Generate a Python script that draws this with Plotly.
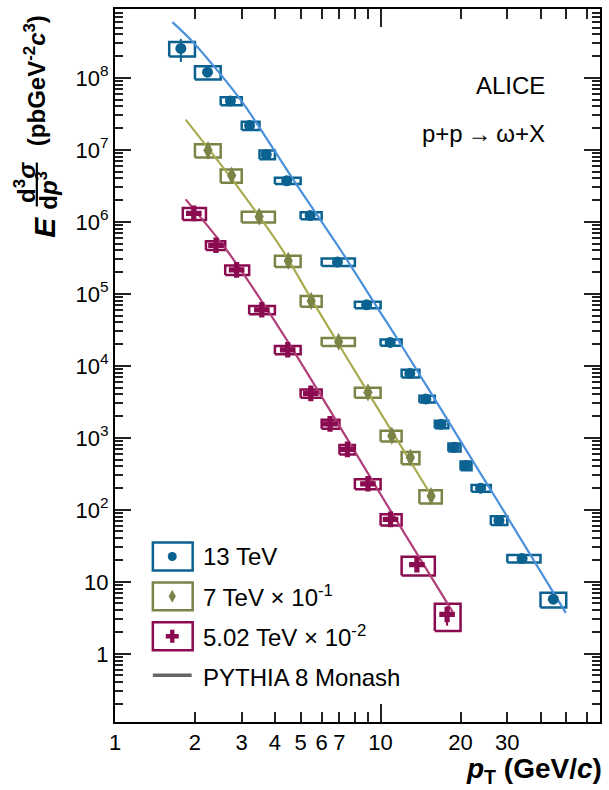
import math
import plotly.graph_objects as go

# ---------------- data ----------------
# 13 TeV
pt13 = [1.77, 2.23, 2.72, 3.21, 3.71, 4.43, 5.43, 6.88, 8.86, 10.87, 12.88, 14.8, 16.9, 18.9, 20.9, 23.8, 27.9, 34.1, 44.7]
lo13 = [1.6, 2.0, 2.5, 3.0, 3.5, 4.0, 5.0, 6.0, 8.0, 10, 12, 14, 16, 18, 20, 22, 26, 30, 40]
hi13 = [2.0, 2.5, 3.0, 3.5, 4.0, 5.0, 6.0, 8.0, 10, 12, 14, 16, 18, 20, 22, 26, 30, 40, 50]
y13 = [2.56e8, 1.20e8, 4.77e7, 2.17e7, 8.6e6, 3.72e6, 1.22e6, 2.76e5, 7.03e4, 2.11e4, 7.85e3, 3.47e3,
       1.54e3, 740, 412, 200, 71.3, 21.0, 5.73]
sys13 = [0.23, 0.21, 0.13, 0.13, 0.14, 0.10, 0.11, 0.12, 0.10, 0.10, 0.12, 0.11, 0.12, 0.13, 0.14, 0.11, 0.14, 0.12, 0.23]
stat13 = [0.35, 0.10, 0.05, 0.05, 0.05, 0.04, 0.04, 0.04, 0.03, 0.03, 0.03, 0.03, 0.04, 0.04, 0.05, 0.05, 0.06, 0.07, 0.12]

# 7 TeV x 10^-1
pt7 = [2.24, 2.75, 3.49, 4.49, 5.48, 6.95, 8.96, 11.02, 12.95, 15.5]
lo7 = [2.0, 2.5, 3.0, 4.0, 5.0, 6.0, 8.0, 10, 12, 14]
hi7 = [2.5, 3.0, 4.0, 5.0, 6.0, 8.0, 10, 12, 14, 17]
y7 = [9.9e6, 4.4e6, 1.18e6, 2.87e5, 7.98e4, 2.16e4, 4.28e3, 1.07e3, 532, 155]
sys7 = [0.21, 0.21, 0.17, 0.18, 0.17, 0.13, 0.16, 0.17, 0.19, 0.21]
stat7 = [0.25, 0.15, 0.06, 0.05, 0.05, 0.05, 0.05, 0.06, 0.07, 0.10]

# 5.02 TeV x 10^-2
pt5 = [1.98, 2.4, 2.87, 3.57, 4.47, 5.46, 6.45, 7.5, 8.96, 10.9, 13.7, 17.8]
lo5 = [1.8, 2.2, 2.6, 3.2, 4.0, 5.0, 6.0, 7.0, 8.0, 10, 12, 16]
hi5 = [2.2, 2.6, 3.2, 4.0, 5.0, 6.0, 7.0, 8.0, 10, 12, 16, 20]
y5 = [1.31e6, 4.72e5, 2.15e5, 6.0e4, 1.67e4, 4.14e3, 1.56e3, 690, 230, 73.6, 17.3, 3.52]
sys5 = [0.19, 0.14, 0.15, 0.13, 0.13, 0.13, 0.14, 0.15, 0.16, 0.18, 0.29, 0.41]
stat5 = [0.08, 0.06, 0.06, 0.05, 0.05, 0.05, 0.06, 0.07, 0.08, 0.10, 0.15, 0.30]

# PYTHIA 8 Monash curves
py13_pt = [1.645, 1.984, 3.0, 4.73, 7.08, 9.57, 11.8, 24.7, 27.4, 49.8]
py13_y = [5.93e8, 3.03e8, 4.72e7, 3.67e6, 4.03e5, 7.03e4, 2.11e4, 255, 138, 3.70]
py7_pt = [1.845, 2.747, 4.276, 5.48, 8.96, 15.38]
py7_y = [2.63e7, 3.98e6, 4.03e5, 8.51e4, 4.28e3, 167]
py5_pt = [1.845, 2.636, 4.217, 6.40, 10.29, 18.67]
py5_y = [2.05e6, 4.03e5, 3.06e4, 2.52e3, 138, 3.82]

y_tickvals = [1, 10, 1e2, 1e3, 1e4, 1e5, 1e6, 1e7, 1e8]
y_ticktext = ["1", "10", "10<sup>2</sup>", "10<sup>3</sup>", "10<sup>4</sup>", "10<sup>5</sup>",
              "10<sup>6</sup>", "10<sup>7</sup>", "10<sup>8</sup>"]
x_tickvals = [1, 2, 3, 4, 5, 6, 7, 10, 20, 30]
x_ticktext = ["1", "2", "3", "4", "5", "6", "7", "10", "20", "30"]
x_minor = [8, 9, 40, 50, 60]

# ---------------- styling ----------------
FONT = "Liberation Sans, Arial, Helvetica, sans-serif"
C13, C13L = "#0b6291", "#4a91db"
C7, C7L = "#7b8347", "#a8ab50"
C5, C5L = "#8a0b4f", "#b03e78"

L, R, T, B = 115, 7, 7, 68
W, H = 609, 790
PW, PH = W - L - R, H - T - B


def px(x):
    return (x - L) / PW


def py(y):
    return (H - B - y) / PH


fig = go.Figure()


def add_series(pt, lo, hi, yv, sy, st, col, sym, size):
    bx, byy = [], []
    for a, b, v, r in zip(lo, hi, yv, sy):
        y0, y1 = v * (1 - r), v * (1 + r)
        bx += [a, b, b, a, a, None]
        byy += [y0, y0, y1, y1, y0, None]
    fig.add_trace(go.Scatter(x=bx, y=byy, mode="lines", line=dict(color=col, width=2.5),
                             showlegend=False, hoverinfo="skip"))
    return dict(x=pt, y=yv, mode="markers",
                marker=dict(color=col, symbol=sym, size=size, line=dict(width=0)),
                error_y=dict(type="data", array=[v * s for v, s in zip(yv, st)],
                             color=col, thickness=2, width=0),
                showlegend=False)


m13 = add_series(pt13, lo13, hi13, y13, sys13, stat13, C13, "circle", 11)
m7 = add_series(pt7, lo7, hi7, y7, sys7, stat7, C7, "diamond-tall", 13)
m5 = add_series(pt5, lo5, hi5, y5, sys5, stat5, C5, "cross", 13)

for xs, ys, c in [(py13_pt, py13_y, C13L), (py7_pt, py7_y, C7L), (py5_pt, py5_y, C5L)]:
    fig.add_trace(go.Scatter(x=xs, y=ys, mode="lines",
                             line=dict(color=c, width=2.2, shape="spline", smoothing=0.8),
                             showlegend=False, hoverinfo="skip"))

for m in (m13, m7, m5):
    fig.add_trace(go.Scatter(**m))

# ---------------- axes ----------------
xr = [0, math.log10(67.0)]
yr = [-0.947, 8.956]

y_minor = []
for d in range(-1, 9):
    for k in range(2, 10):
        v = k * 10 ** d
        if yr[0] < math.log10(v) < yr[1]:
            y_minor.append(v)

fig.update_layout(
    width=W, height=H, margin=dict(l=L, r=R, t=T, b=B),
    paper_bgcolor="white", plot_bgcolor="white",
    font=dict(family=FONT, size=22, color="black"),
    xaxis=dict(type="log", range=xr, showgrid=False, zeroline=False,
               showline=True, linecolor="black", linewidth=2, mirror="ticks",
               ticks="inside", ticklen=10, tickwidth=1.5, tickcolor="#222",
               tickvals=x_tickvals, ticktext=x_ticktext,
               tickfont=dict(size=22),
               minor=dict(tickvals=x_minor, ticks="inside", ticklen=10, tickwidth=1.5,
                          tickcolor="#222", showgrid=False)),
    xaxis2=dict(type="log", range=xr, overlaying="x", anchor="y", side="bottom",
                showgrid=False, zeroline=False, showline=False, mirror="ticks",
                ticks="inside", ticklen=18, tickwidth=1.5, tickcolor="#222",
                tickvals=[1, 10], showticklabels=False),
    yaxis=dict(type="log", range=yr, showgrid=False, zeroline=False,
               showline=True, linecolor="black", linewidth=2, mirror="ticks",
               ticks="inside", ticklen=16, tickwidth=1.5, tickcolor="#222",
               tickvals=y_tickvals, ticktext=y_ticktext, tickfont=dict(size=22),
               minor=dict(tickvals=y_minor, ticks="inside", ticklen=8, tickwidth=1.5,
                          tickcolor="#222", showgrid=False)),
)
# invisible trace to activate xaxis2 (long ticks at 1 and 10)
fig.add_trace(go.Scatter(x=[1], y=[1], xaxis="x2", mode="markers", marker=dict(opacity=0),
                         showlegend=False, hoverinfo="skip"))

ann = []
shapes = []


def text(x, y, s, size, xanchor="center", angle=0, color="black"):
    ann.append(dict(x=px(x), y=py(y), xref="paper", yref="paper", text=s, showarrow=False,
                    xanchor=xanchor, yanchor="middle", textangle=angle,
                    font=dict(family=FONT, size=size, color=color)))


# top-right labels
text(549, 84, "ALICE", 24, "right")
text(549, 132, "p+p\u2009\u2192\u2009\u03c9+X", 24, "right")

# x title
text(606, 771, "<b><i>p</i></b><sub><b>T</b></sub><b> (GeV/<i>c</i>)</b>", 28, "right")

# y title (rotated, built from pieces)
text(34, 79, "<b>(pbGeV<sup>-2</sup><i>c</i><sup>3</sup>)</b>", 24, angle=-90)
text(24, 181, "<b>d<sup>3</sup><i>σ</i></b>", 24, angle=-90)
text(47, 189, "<b>d<i>p</i><sup>3</sup></b>", 24, angle=-90)
text(44, 226, "<b><i>E</i></b>", 30, angle=-90)
shapes.append(dict(type="line", xref="paper", yref="paper", x0=px(36.5), x1=px(36.5),
                   y0=py(161), y1=py(205), line=dict(color="black", width=2.2)))

# legend
leg = [(556, C13, "13 TeV"), (596, C7, "7 TeV \u00d7 10<sup>-1</sup>"), (636, C5, "5.02 TeV \u00d7 10<sup>-2</sup>")]
for yc, c, lab in leg:
    shapes.append(dict(type="rect", xref="paper", yref="paper", x0=px(153), x1=px(193),
                       y0=py(yc + 14), y1=py(yc - 14), line=dict(color=c, width=2.5)))
    text(201, yc, lab, 24, "left")
text(201, 677, "PYTHIA 8 Monash", 24, "left")
shapes.append(dict(type="line", xref="paper", yref="paper", x0=px(153), x1=px(192),
                   y0=py(675), y1=py(675), line=dict(color="#666666", width=3.5)))

# legend glyphs
cx = 172.5
shapes.append(dict(type="circle", xref="paper", yref="paper", x0=px(cx - 4.5), x1=px(cx + 4.5),
                   y0=py(556 + 4.5), y1=py(556 - 4.5), fillcolor=C13, line=dict(width=0)))


def path(pts):
    return "M " + " L ".join(f"{px(a):.5f},{py(b):.5f}" for a, b in pts) + " Z"


yc = 596
shapes.append(dict(type="path", xref="paper", yref="paper",
                   path=path([(cx, yc - 6.5), (cx + 3.6, yc), (cx, yc + 6.5), (cx - 3.6, yc)]),
                   fillcolor=C7, line=dict(width=0)))
yc = 636
a, b = 2.2, 6.5
shapes.append(dict(type="path", xref="paper", yref="paper",
                   path=path([(cx - a, yc - b), (cx + a, yc - b), (cx + a, yc - a), (cx + b, yc - a),
                              (cx + b, yc + a), (cx + a, yc + a), (cx + a, yc + b), (cx - a, yc + b),
                              (cx - a, yc + a), (cx - b, yc + a), (cx - b, yc - a), (cx - a, yc - a)]),
                   fillcolor=C5, line=dict(width=0)))

fig.update_layout(annotations=ann, shapes=shapes)
fig.write_html("out.html")
